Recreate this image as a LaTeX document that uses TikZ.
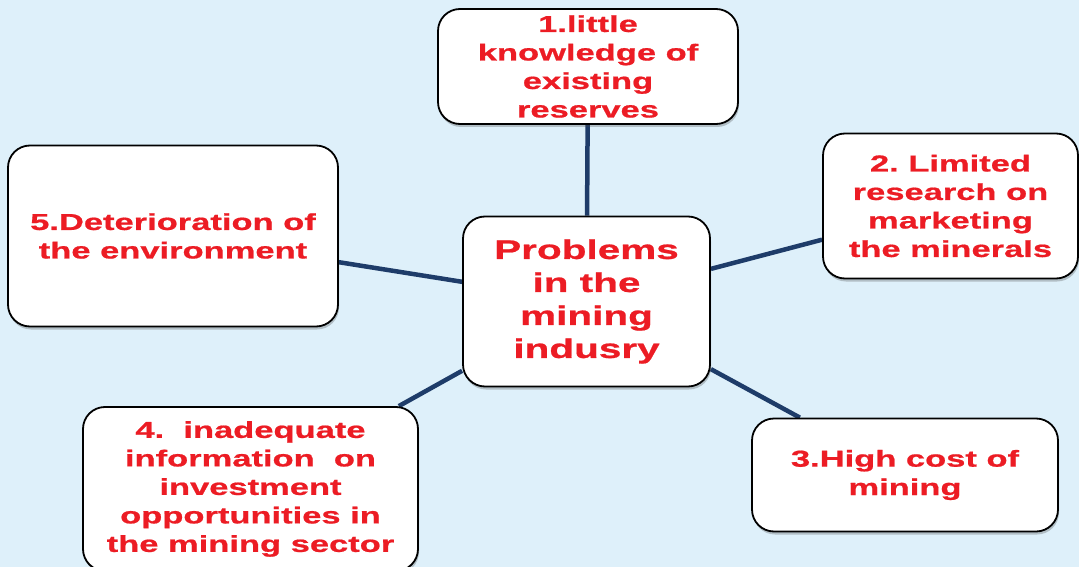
\documentclass[tikz,border=0pt]{standalone}
\usepackage{fontspec}
\setmainfont[FakeStretch=1.5, BoldFeatures={FakeBold=0.8}]{Liberation Sans}
\usetikzlibrary{shadows}
\definecolor{bgblue}{RGB}{222,240,250}
\definecolor{txtred}{RGB}{236,28,36}
\definecolor{linkblue}{RGB}{30,60,105}
\pgfdeclarelayer{bg}
\pgfdeclarelayer{links}
\pgfsetlayers{bg,links,main}
\frenchspacing
\tikzset{
  box/.style={draw=black, line width=1.8pt, fill=white, rounded corners=22pt,
    align=center, text=txtred, inner sep=0pt,
    font=\bfseries\fontsize{23}{28.5}\selectfont,
    drop shadow={shadow xshift=1pt, shadow yshift=-3pt, opacity=0.3, fill=black!70}},
  bigbox/.style={box, font=\bfseries\fontsize{27}{33}\selectfont},
  link/.style={draw=linkblue, line width=4.5pt}
}
\begin{document}
\begin{tikzpicture}[x=1pt,y=-1pt]
\begin{pgfonlayer}{bg}
  \fill[bgblue] (0,0) rectangle (1079,567);
\end{pgfonlayer}
\useasboundingbox (0,0) rectangle (1079,567);

\node[box, minimum width=300pt, minimum height=115pt] (n1) at (588,66.5)
  {1.little\\knowledge of\\existing\\reserves};
\node[box, minimum width=255pt, minimum height=145pt] (n2) at (950.5,206)
  {2. Limited\\research on\\marketing\\the minerals};
\node[box, minimum width=306pt, minimum height=113pt] (n3) at (905,475)
  {3.High cost of\\mining};
\node[box, minimum width=335pt, minimum height=164pt] (n4) at (250.5,489)
  {4.\ \ inadequate\\information\ \ on\\investment\\opportunities in\\the mining sector};
\node[box, minimum width=330pt, minimum height=181pt] (n5) at (173,236)
  {5.Deterioration of\\the environment};
\node[bigbox, minimum width=247pt, minimum height=170pt] (c) at (586.5,301.5)
  {Problems\\in the\\mining\\indusry};

\begin{pgfonlayer}{links}
  \draw[link] (c) -- (n1);
  \draw[link] (c) -- (n2);
  \draw[link] (c) -- (n3);
  \draw[link] (c) -- (n4);
  \draw[link] (c) -- (n5);
\end{pgfonlayer}
\end{tikzpicture}
\end{document}
